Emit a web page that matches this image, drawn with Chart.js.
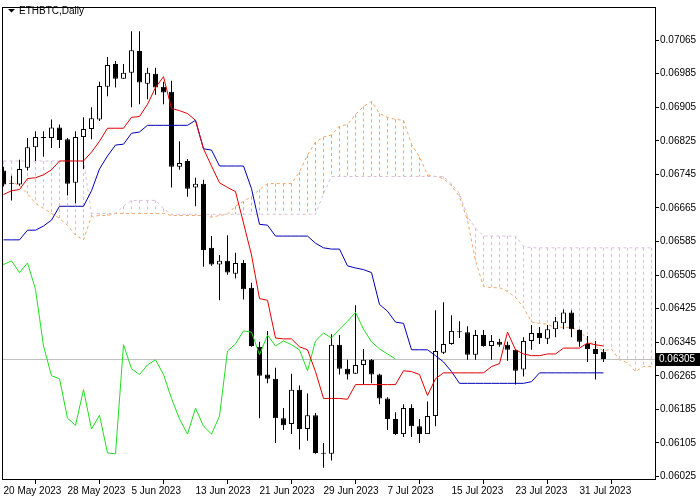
<!DOCTYPE html>
<html>
<head>
<meta charset="utf-8">
<title>ETHBTC Daily</title>
<script src="https://cdn.jsdelivr.net/npm/chart.js@4.4.1/dist/chart.umd.min.js"></script>
<style>
  html, body { margin: 0; padding: 0; background: #fff; }
  #wrap { width: 700px; height: 500px; }
</style>
</head>
<body>
<div id="wrap"><canvas id="chart" width="700" height="500"></canvas></div>
<script>
// ETHBTC daily candles, bar 0 = 20 May 2023, last bar = 3 Aug 2023.
const SYMBOL_TITLE = "ETHBTC,Daily";

const opens = [
  0.06754, 0.06723, 0.06721, 0.06761, 0.06810, 0.06832, 0.06832, 0.06857, 0.06829, 0.06725,
  0.06834, 0.06853, 0.06876, 0.06954, 0.07008, 0.06973, 0.06987, 0.07039, 0.06961, 0.06985,
  0.06954, 0.06942, 0.06763, 0.06777, 0.06714, 0.06723, 0.06570, 0.06530, 0.06539, 0.06508,
  0.06534, 0.06475, 0.06334, 0.06268, 0.06258, 0.06164, 0.06150, 0.06232, 0.06138, 0.06171,
  0.06079, 0.06079, 0.06339, 0.06282, 0.06270, 0.06291, 0.06303, 0.06268, 0.06211, 0.06162,
  0.06126, 0.06188, 0.06145, 0.06126, 0.06169, 0.06320, 0.06341, 0.06369, 0.06369, 0.06315,
  0.06362, 0.06336, 0.06346, 0.06339, 0.06327, 0.06280, 0.06348, 0.06367, 0.06353, 0.06376,
  0.06390, 0.06416, 0.06374, 0.06341, 0.06329, 0.06322
];
const highs = [
  0.06763, 0.06742, 0.06780, 0.06832, 0.06848, 0.06848, 0.06876, 0.06864, 0.06832, 0.06848,
  0.06881, 0.06905, 0.06966, 0.07025, 0.07015, 0.07008, 0.07086, 0.07086, 0.06999, 0.06999,
  0.06966, 0.06968, 0.06824, 0.06782, 0.06737, 0.06732, 0.06598, 0.06553, 0.06600, 0.06558,
  0.06541, 0.06487, 0.06346, 0.06372, 0.06284, 0.06188, 0.06270, 0.06242, 0.06223, 0.06176,
  0.06105, 0.06364, 0.06362, 0.06303, 0.06433, 0.06329, 0.06305, 0.06270, 0.06214, 0.06178,
  0.06197, 0.06197, 0.06162, 0.06204, 0.06421, 0.06440, 0.06409, 0.06395, 0.06383, 0.06374,
  0.06374, 0.06362, 0.06353, 0.06346, 0.06329, 0.06357, 0.06386, 0.06381, 0.06386, 0.06405,
  0.06423, 0.06421, 0.06376, 0.06360, 0.06348, 0.06329
];
const lows = [
  0.06716, 0.06683, 0.06718, 0.06754, 0.06777, 0.06787, 0.06808, 0.06808, 0.06695, 0.06676,
  0.06758, 0.06829, 0.06872, 0.06931, 0.06952, 0.06973, 0.06905, 0.06912, 0.06924, 0.06935,
  0.06912, 0.06714, 0.06756, 0.06692, 0.06669, 0.06525, 0.06527, 0.06445, 0.06506, 0.06497,
  0.06447, 0.06334, 0.06164, 0.06247, 0.06105, 0.06136, 0.06126, 0.06089, 0.06110, 0.06079,
  0.06046, 0.06063, 0.06268, 0.06256, 0.06270, 0.06244, 0.06247, 0.06197, 0.06136, 0.06124,
  0.06119, 0.06119, 0.06105, 0.06126, 0.06145, 0.06317, 0.06339, 0.06355, 0.06303, 0.06303,
  0.06334, 0.06303, 0.06334, 0.06301, 0.06244, 0.06263, 0.06327, 0.06341, 0.06341, 0.06357,
  0.06376, 0.06357, 0.06334, 0.06298, 0.06256, 0.06298
];
const closes = [
  0.06721, 0.06723, 0.06758, 0.06810, 0.06834, 0.06832, 0.06857, 0.06827, 0.06723, 0.06834,
  0.06853, 0.06879, 0.06956, 0.07006, 0.06973, 0.06987, 0.07041, 0.06964, 0.06987, 0.06952,
  0.06940, 0.06763, 0.06772, 0.06711, 0.06723, 0.06565, 0.06530, 0.06539, 0.06511, 0.06534,
  0.06471, 0.06336, 0.06265, 0.06258, 0.06164, 0.06147, 0.06232, 0.06138, 0.06171, 0.06081,
  0.06079, 0.06339, 0.06282, 0.06268, 0.06291, 0.06303, 0.06268, 0.06211, 0.06162, 0.06126,
  0.06188, 0.06145, 0.06126, 0.06169, 0.06324, 0.06341, 0.06372, 0.06369, 0.06315, 0.06362,
  0.06336, 0.06348, 0.06339, 0.06327, 0.06277, 0.06348, 0.06367, 0.06355, 0.06376, 0.06395,
  0.06416, 0.06376, 0.06346, 0.06329, 0.06317, 0.06305
];

// Ichimoku lines
const tenkan = [
  0.06697, 0.06706, 0.06709, 0.06735, 0.06737, 0.06744, 0.06756, 0.06777, 0.06777, 0.06777,
  0.06777, 0.06798, 0.06824, 0.06855, 0.06855, 0.06855, 0.06881, 0.06883, 0.06912, 0.06952,
  0.06978, 0.06902, 0.06897, 0.06890, 0.06874, 0.06806, 0.06765, 0.06725, 0.06714, 0.06704,
  0.06629, 0.06553, 0.06449, 0.06445, 0.06355, 0.06353, 0.06353, 0.06334, 0.06327, 0.06275,
  0.06211, 0.06211, 0.06211, 0.06209, 0.06244, 0.06244, 0.06244, 0.06244, 0.06244, 0.06244,
  0.06277, 0.06275, 0.06268, 0.06218, 0.06258, 0.06272, 0.06272, 0.06272, 0.06272, 0.06272,
  0.06272, 0.06287, 0.06294, 0.06369, 0.06327, 0.06317, 0.06313, 0.06313, 0.06317, 0.06317,
  0.06331, 0.06331, 0.06331, 0.06343, 0.06339, 0.06336
];
const kijun = [
  0.06589, 0.06589, 0.06589, 0.06612, 0.06612, 0.06622, 0.06636, 0.06669, 0.06669, 0.06669,
  0.06669, 0.06706, 0.06758, 0.06789, 0.06815, 0.06817, 0.06843, 0.06846, 0.06862, 0.06862,
  0.06862, 0.06862, 0.06862, 0.06862, 0.06874, 0.06806, 0.06803, 0.06765, 0.06765, 0.06765,
  0.06765, 0.06711, 0.06626, 0.06624, 0.06598, 0.06598, 0.06598, 0.06598, 0.06598, 0.06581,
  0.06570, 0.06567, 0.06567, 0.06527, 0.06522, 0.06518, 0.06511, 0.06435, 0.06419, 0.06393,
  0.06390, 0.06327, 0.06327, 0.06327, 0.06313, 0.06298, 0.06275, 0.06247, 0.06247, 0.06247,
  0.06247, 0.06247, 0.06247, 0.06247, 0.06247, 0.06247, 0.06251, 0.06272, 0.06272, 0.06272,
  0.06272, 0.06272, 0.06272, 0.06272, 0.06272, 0.06272
];
// cloud spans run 6 bars past the last candle (to the right edge)
const spanA = [
  0.06735, 0.06728, 0.06718, 0.06699, 0.06676, 0.06664, 0.06652, 0.06640, 0.06624, 0.06600,
  0.06589, 0.06645, 0.06647, 0.06647, 0.06652, 0.06652, 0.06652, 0.06652, 0.06652, 0.06652,
  0.06652, 0.06647, 0.06647, 0.06647, 0.06647, 0.06647, 0.06643, 0.06647, 0.06650, 0.06669,
  0.06681, 0.06692, 0.06709, 0.06723, 0.06723, 0.06723, 0.06723, 0.06751, 0.06791, 0.06822,
  0.06834, 0.06839, 0.06860, 0.06864, 0.06888, 0.06907, 0.06919, 0.06890, 0.06881, 0.06876,
  0.06874, 0.06817, 0.06787, 0.06744, 0.06740, 0.06735, 0.06718, 0.06692, 0.06636, 0.06539,
  0.06478, 0.06475, 0.06475, 0.06466, 0.06452, 0.06428, 0.06393, 0.06390, 0.06388, 0.06379,
  0.06381, 0.06379, 0.06374, 0.06350, 0.06336, 0.06324, 0.06329, 0.06303, 0.06296, 0.06275,
  0.06287, 0.06287
];
const spanB = [
  0.06777, 0.06777, 0.06777, 0.06777, 0.06777, 0.06777, 0.06777, 0.06777, 0.06777, 0.06777,
  0.06777, 0.06652, 0.06652, 0.06652, 0.06652, 0.06669, 0.06683, 0.06683, 0.06683, 0.06683,
  0.06664, 0.06650, 0.06650, 0.06650, 0.06650, 0.06650, 0.06650, 0.06650, 0.06650, 0.06650,
  0.06650, 0.06650, 0.06650, 0.06650, 0.06650, 0.06650, 0.06650, 0.06650, 0.06650, 0.06650,
  0.06699, 0.06740, 0.06740, 0.06740, 0.06740, 0.06740, 0.06740, 0.06740, 0.06740, 0.06740,
  0.06740, 0.06740, 0.06740, 0.06740, 0.06740, 0.06740, 0.06723, 0.06699, 0.06645, 0.06617,
  0.06598, 0.06598, 0.06598, 0.06598, 0.06598, 0.06574, 0.06570, 0.06570, 0.06570, 0.06570,
  0.06570, 0.06570, 0.06570, 0.06570, 0.06570, 0.06570, 0.06570, 0.06570, 0.06570, 0.06570,
  0.06570, 0.06570
];
const CHIKOU_SHIFT = 26;

const dateTicks = [0, 8, 16, 24, 32, 40, 48, 56, 64, 72];
const dateLabels = [
  "20 May 2023", "28 May 2023", "5 Jun 2023", "13 Jun 2023", "21 Jun 2023",
  "29 Jun 2023", "7 Jul 2023", "15 Jul 2023", "23 Jul 2023", "31 Jul 2023"
];
const priceTicks = [
  0.06025, 0.06105, 0.06185, 0.06265, 0.06345, 0.06425, 0.06505,
  0.06585, 0.06665, 0.06745, 0.06825, 0.06905, 0.06985, 0.07065
];

// view window: 8 px per bar, visible price range
const X_MIN = -0.1875, X_MAX = 81.5625;
const Y_MIN = 0.060166, Y_MAX = 0.07144;

const AXIS_FONT = { family: "'Liberation Sans', Arial, sans-serif", size: 10 };
const SANDY = "#F4A460";
const THISTLE = "#D8BFD8";
const DOT = [3, 3]; // GDI PS_DOT look

const canvas = document.getElementById("chart");
const idx = opens.map((_, i) => i);
const bodyColors = idx.map((i) => (closes[i] > opens[i] ? "#ffffff" : "#000000"));
const asPoints = (arr) => arr.map((v, i) => ({ x: i, y: v }));

// MT4 draws the kumo as a dotted histogram: one vertical line per bar
// between span A and span B. Done before the datasets so candles sit on top.
const kumoHatch = {
  id: "kumoHatch",
  beforeDatasetsDraw(chart) {
    const { ctx, chartArea: a, scales: { x, y } } = chart;
    ctx.save();
    ctx.beginPath();
    ctx.rect(a.left, a.top, a.width, a.height);
    ctx.clip();
    ctx.lineWidth = 1;
    ctx.setLineDash(DOT);
    spanA.forEach((va, i) => {
      const vb = spanB[i];
      const px = Math.floor(x.getPixelForValue(i)) + 0.5;
      ctx.strokeStyle = va >= vb ? SANDY : THISTLE;
      ctx.beginPath();
      ctx.moveTo(px, y.getPixelForValue(Math.max(va, vb)));
      ctx.lineTo(px, y.getPixelForValue(Math.min(va, vb)));
      ctx.stroke();
    });
    ctx.restore();
  }
};

const mt4Frame = {
  id: "mt4Frame",
  beforeDatasetsDraw(chart) {
    const { ctx, chartArea: a, scales } = chart;
    const py = Math.floor(scales.y.getPixelForValue(closes[closes.length - 1])) + 0.5;
    ctx.save();
    ctx.strokeStyle = "#c0c0c0";
    ctx.lineWidth = 1;
    ctx.beginPath();
    ctx.moveTo(a.left, py);
    ctx.lineTo(a.right, py);
    ctx.stroke();
    ctx.restore();
  },
  afterDraw(chart) {
    const { ctx, chartArea: a, scales } = chart;
    ctx.save();
    ctx.strokeStyle = "#000";
    ctx.lineWidth = 1;
    ctx.strokeRect(a.left + 0.5, a.top + 0.5, a.width - 1, a.height - 1);

    // symbol caption
    ctx.fillStyle = "#000";
    ctx.beginPath();
    ctx.moveTo(8, 9);
    ctx.lineTo(15, 9);
    ctx.lineTo(11.5, 12.5);
    ctx.closePath();
    ctx.fill();
    ctx.font = "10px 'Liberation Sans', Arial, sans-serif";
    ctx.textBaseline = "middle";
    ctx.fillText(SYMBOL_TITLE, 19, 11);

    // current price tag
    const last = closes[closes.length - 1];
    const py = Math.floor(scales.y.getPixelForValue(last));
    ctx.fillRect(a.right, py - 6, chart.width - a.right, 13);
    ctx.fillStyle = "#fff";
    ctx.fillText(last.toFixed(5), a.right + 3, py + 0.5);
    ctx.restore();
  }
};

new Chart(canvas, {
  type: "bar",
  data: {
    datasets: [
      {
        type: "line", label: "Tenkan-sen", data: asPoints(tenkan),
        borderColor: "#e00000", borderWidth: 1, pointRadius: 0, tension: 0, order: 1
      },
      {
        type: "line", label: "Kijun-sen", data: asPoints(kijun),
        borderColor: "#0000b4", borderWidth: 1, pointRadius: 0, tension: 0, order: 2
      },
      {
        type: "line", label: "Chikou Span",
        data: closes.map((v, i) => ({ x: i - CHIKOU_SHIFT, y: v })),
        borderColor: "#22dd22", borderWidth: 1, pointRadius: 0, tension: 0, order: 3
      },
      {
        label: "Body", data: idx.map((i) => ({ x: i, y: [opens[i], closes[i]] })),
        backgroundColor: bodyColors, borderColor: "#000", borderWidth: 1,
        borderSkipped: false, barThickness: 5, minBarLength: 1, grouped: false,
        inflateAmount: 0, order: 5
      },
      {
        label: "Wick", data: idx.map((i) => ({ x: i, y: [lows[i], highs[i]] })),
        backgroundColor: "#000", borderWidth: 0, barThickness: 1, grouped: false,
        inflateAmount: 0, order: 6
      },
      {
        type: "line", label: "Senkou Span A", data: asPoints(spanA),
        borderColor: SANDY, borderWidth: 1, borderDash: DOT, pointRadius: 0, tension: 0,
        order: 9
      },
      {
        type: "line", label: "Senkou Span B", data: asPoints(spanB),
        borderColor: THISTLE, borderWidth: 1, borderDash: DOT, pointRadius: 0, tension: 0,
        order: 8
      }
    ]
  },
  options: {
    responsive: false,
    animation: false,
    devicePixelRatio: 1,
    layout: { padding: { left: 2, top: 2, right: 0, bottom: 0 } },
    plugins: { legend: { display: false }, tooltip: { enabled: false } },
    scales: {
      x: {
        type: "linear", position: "bottom", min: X_MIN, max: X_MAX, offset: false,
        afterBuildTicks: (s) => { s.ticks = dateTicks.map((v) => ({ value: v })); },
        afterFit: (s) => { s.height = 20; },
        ticks: {
          autoSkip: false, maxRotation: 0, minRotation: 0, align: "start",
          color: "#000", font: AXIS_FONT, padding: 1,
          callback: (v, i) => dateLabels[i]
        },
        grid: { drawOnChartArea: false, tickLength: 4, color: "#000" },
        border: { display: false }
      },
      y: {
        type: "linear", position: "right", min: Y_MIN, max: Y_MAX,
        afterBuildTicks: (s) => { s.ticks = priceTicks.map((v) => ({ value: v })); },
        afterFit: (s) => { s.width = 44; },
        ticks: {
          autoSkip: false, color: "#000", font: AXIS_FONT, padding: 1,
          callback: (v) => v.toFixed(5)
        },
        grid: { drawOnChartArea: false, tickLength: 3, color: "#000" },
        border: { display: false }
      }
    }
  },
  plugins: [kumoHatch, mt4Frame]
});
</script>
</body>
</html>
